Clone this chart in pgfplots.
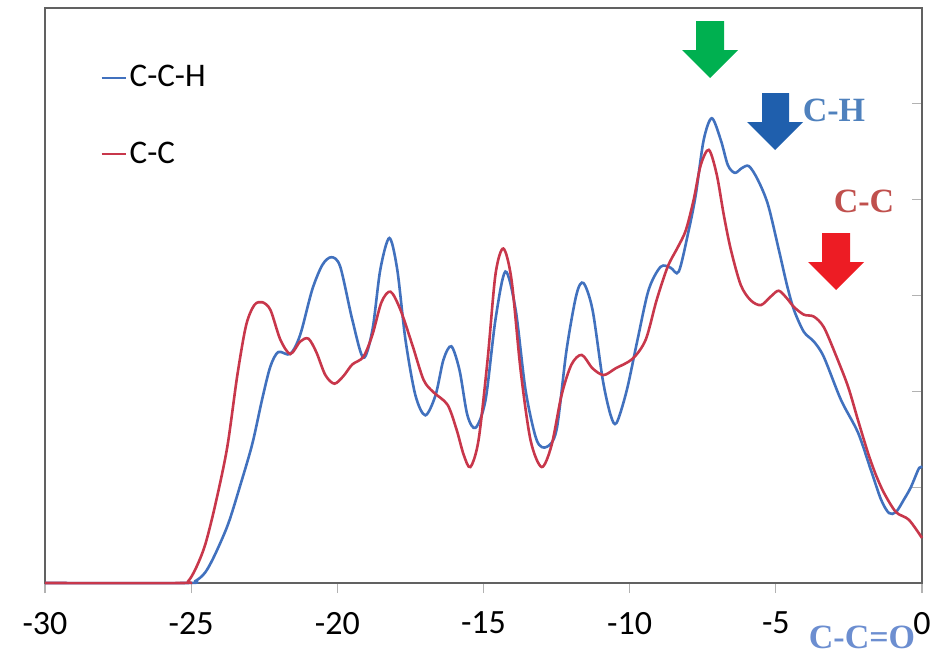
\documentclass[border=0pt]{standalone}
\usepackage{pgfplots}
\pgfplotsset{compat=1.18}
\usepackage{pgfplotstable}
\usepackage{fontspec}
\setmainfont{Carlito}
\newfontfamily\serifb{Liberation Serif}
\definecolor{cblue}{RGB}{65,113,190}
\definecolor{cred}{RGB}{200,55,75}
\definecolor{agreen}{RGB}{0,176,80}
\definecolor{ablue}{RGB}{31,95,173}
\definecolor{ared}{RGB}{237,28,36}
\definecolor{tblue}{RGB}{79,129,189}
\definecolor{tred}{RGB}{192,80,77}
\definecolor{tlblue}{RGB}{108,142,208}

\pgfplotstableread{
x y
-30 0
-25.21 0
-24.86 0.02
-24.52 0.11
-24.18 0.30
-23.73 0.62
-23.32 1.02
-22.91 1.45
-22.57 1.92
-22.29 2.26
-22.02 2.41
-21.61 2.39
-21.27 2.59
-20.86 3.06
-20.51 3.32
-20.20 3.40
-19.90 3.30
-19.49 2.75
-19.11 2.35
-18.80 2.64
-18.53 3.27
-18.22 3.60
-17.95 3.27
-17.67 2.54
-17.33 1.96
-16.99 1.75
-16.64 1.96
-16.37 2.33
-16.10 2.47
-15.82 2.22
-15.55 1.75
-15.27 1.62
-14.93 1.91
-14.59 2.75
-14.25 3.25
-13.90 2.85
-13.56 2.01
-13.18 1.49
-12.84 1.42
-12.50 1.60
-12.16 2.43
-11.82 3.01
-11.58 3.13
-11.27 2.85
-10.92 2.12
-10.65 1.75
-10.45 1.67
-10.10 2.01
-9.73 2.54
-9.35 3.06
-8.94 3.30
-8.60 3.29
-8.32 3.25
-7.98 3.68
-7.74 4.05
-7.47 4.62
-7.19 4.85
-6.88 4.62
-6.64 4.36
-6.40 4.28
-6.16 4.33
-5.92 4.35
-5.62 4.21
-5.27 3.95
-4.90 3.48
-4.62 3.11
-4.38 2.85
-4.04 2.62
-3.70 2.52
-3.36 2.36
-2.77 1.91
-2.19 1.57
-1.75 1.18
-1.40 0.87
-1.13 0.73
-0.89 0.74
-0.62 0.87
-0.38 1.00
-0.10 1.20
0 1.20
}\cch

\pgfplotstableread{
x y
-30 0
-25.38 0
-25.10 0.02
-24.83 0.16
-24.52 0.40
-24.18 0.81
-23.77 1.41
-23.42 2.17
-23.12 2.69
-22.84 2.90
-22.57 2.93
-22.29 2.85
-21.95 2.54
-21.61 2.39
-21.27 2.52
-20.99 2.55
-20.72 2.41
-20.41 2.17
-20.10 2.08
-19.79 2.16
-19.49 2.28
-19.11 2.36
-18.80 2.59
-18.49 2.93
-18.18 3.04
-17.84 2.85
-17.43 2.48
-17.05 2.12
-16.71 1.99
-16.23 1.86
-15.92 1.60
-15.68 1.34
-15.45 1.21
-15.17 1.49
-14.86 2.33
-14.59 3.22
-14.32 3.49
-14.04 3.16
-13.73 2.22
-13.39 1.49
-13.01 1.21
-12.67 1.44
-12.33 1.96
-11.99 2.28
-11.64 2.38
-11.27 2.24
-10.89 2.17
-10.48 2.24
-9.90 2.34
-9.45 2.54
-9.08 2.95
-8.70 3.30
-8.36 3.50
-8.08 3.68
-7.81 4.00
-7.57 4.36
-7.29 4.52
-7.02 4.26
-6.78 3.84
-6.54 3.48
-6.20 3.11
-5.86 2.95
-5.51 2.90
-5.17 2.99
-4.90 3.05
-4.62 2.97
-4.38 2.88
-4.04 2.80
-3.70 2.78
-3.36 2.67
-2.95 2.38
-2.53 2.05
-2.19 1.70
-1.85 1.36
-1.58 1.13
-1.30 0.94
-0.89 0.74
-0.45 0.66
0 0.47
}\cc

\begin{document}
\begin{tikzpicture}
\begin{scope}[shift={(-22.5pt,291.5pt)}, x=0.5pt, y=-0.5pt]
\useasboundingbox (0,0) rectangle (948,655);
\end{scope}
\begin{axis}[
  scale only axis,
  width=438.5pt, height=287.5pt,
  xmin=-30, xmax=0, ymin=0, ymax=6,
  clip=false,
  axis line style={draw=black!62, line width=0.8pt},
  xtick={-30,-25,-20,-15,-10,-5,0},
  xticklabels={{-30},{-25},{-20},{-15},{-10},{-5},{0}},
  xtick pos=bottom,
  ytick={1,2,3,4,5}, yticklabels={}, ytick pos=right,
  tick align=inside, major tick length=5pt,
  x tick style={draw=black!30, line width=0.6pt, yshift=-5pt},
  y tick style={draw=black!30, line width=0.6pt},
  xticklabel style={font=\fontsize{17}{20}\selectfont, anchor=north, yshift=-11pt},
  legend style={at={(rel axis cs:0.056,0.913)}, anchor=north west, draw=none, fill=none,
    font=\fontsize{16.5}{20}\selectfont, row sep=23pt,
    nodes={inner sep=1.5pt}},
  legend cell align=left,
  legend image code/.code={\draw[#1, line width=1.1pt] (0pt,0pt) -- (12pt,0pt);},
]
\addplot[cblue, line width=1.3pt, smooth, tension=0.5] table[x=x,y=y] {\cch};
\addlegendentry{C-C-H}
\addplot[cred, line width=1.3pt, smooth, tension=0.5] table[x=x,y=y] {\cc};
\addlegendentry{C-C}
\end{axis}
\begin{scope}[shift={(-22.5pt,291.5pt)}, x=0.5pt, y=-0.5pt]
\fill[agreen] (696,21) -- (724,21) -- (724,50) -- (738,50) -- (710,78) -- (682,50) -- (696,50) -- cycle;
\fill[ablue] (762,93) -- (789,93) -- (789,122) -- (803,122) -- (775,150) -- (747,122) -- (762,122) -- cycle;
\fill[ared] (822,233) -- (850,233) -- (850,262) -- (864,262) -- (836,290) -- (808,262) -- (822,262) -- cycle;
\node[text=tblue, font=\serifb\bfseries\fontsize{17}{20}\selectfont, inner sep=0pt] at (834,110) {C-H};
\node[text=tred, font=\serifb\bfseries\fontsize{17}{20}\selectfont, inner sep=0pt] at (864,201) {C-C};
\node[text=tlblue, font=\serifb\bfseries\fontsize{17}{20}\selectfont, inner sep=0pt] at (862,637) {C-C=O};
\end{scope}
\end{tikzpicture}
\end{document}
